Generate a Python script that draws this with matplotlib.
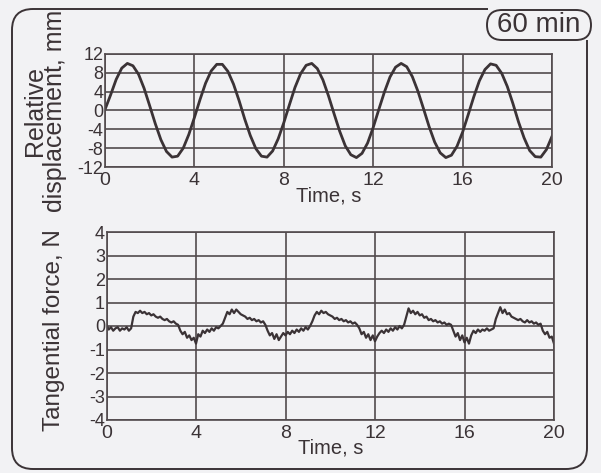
import numpy as np
import matplotlib.pyplot as plt
from matplotlib.path import Path
from matplotlib.patches import PathPatch, FancyBboxPatch

plt.rcParams['font.family'] = 'Liberation Sans'
plt.rcParams['axes.unicode_minus'] = False

# relative displacement (mm), one reading every 0.25 s from 0 to 20 s
disp_mm = [
    0.2, 3.3, 6.6, 9.0, 10.0, 9.5, 7.7, 4.7, 1.0, -2.8, -6.2, -8.7, -9.9, -9.7, -8.0, -5.1,
    -1.5, 2.3, 5.8, 8.4, 9.8, 9.8, 8.3, 5.6, 2.1, -1.8, -5.3, -8.1, -9.7, -9.9, -8.6, -6.0,
    -2.6, 1.2, 4.9, 7.8, 9.6, 10.0, 8.9, 6.5, 3.1, -0.7, -4.4, -7.5, -9.4, -10.0, -9.1, -6.9,
    -3.6, 0.2, 3.9, 7.1, 9.2, 10.0, 9.3, 7.2, 4.1, 0.4, -3.4, -6.7, -9.0, -10.0, -9.5, -7.6,
    -4.6, -0.9, 2.9, 6.3, 8.7, 9.9, 9.6, 7.9, 5.1, 1.5, -2.4, -5.8, -8.5, -9.8, -9.9, -8.3,
    -5.5,
]

# tangential force (N), one reading every 0.1 s from 0 to 20 s
force_N = [
    0.05, -0.15, -0.05, -0.2, -0.1, -0.05, -0.2, -0.1, -0.15, -0.05, -0.2, -0.1,
    0.4,
    0.6, 0.55, 0.65, 0.55, 0.6, 0.5, 0.55, 0.45,
    0.5, 0.4, 0.35, 0.4, 0.3, 0.25, 0.3, 0.2, 0.15, 0.2, 0.1,
    0.05, -0.2, -0.35, -0.25, -0.5, -0.4, -0.6, -0.5, -0.75,
    -0.35, -0.45, -0.2, -0.3, -0.15, -0.25, -0.1, -0.2, -0.05, -0.1, 0.0,
    0.1, 0.35,
    0.6, 0.5, 0.7, 0.55, 0.7, 0.6, 0.5, 0.45,
    0.4, 0.3, 0.35, 0.25, 0.3, 0.2, 0.25, 0.15, 0.2, 0.05,
    -0.2, -0.4, -0.3, -0.55, -0.35, -0.6, -0.45,
    -0.3, -0.4, -0.25, -0.35, -0.2, -0.3, -0.15, -0.25, -0.1, -0.2, -0.05, -0.15, 0.0,
    0.2, 0.45,
    0.6, 0.5, 0.65, 0.55, 0.6, 0.5, 0.45,
    0.4, 0.3, 0.35, 0.25, 0.3, 0.2, 0.25, 0.15, 0.2, 0.1, 0.15, 0.05,
    -0.1, -0.35, -0.25, -0.5, -0.35, -0.6, -0.4, -0.65, -0.45, -0.3,
    -0.2, -0.3, -0.15, -0.25, -0.1, -0.2, -0.05, -0.15, 0.0, -0.1, 0.05,
    0.4, 0.75,
    0.55, 0.65, 0.5, 0.6, 0.45, 0.5, 0.35, 0.4,
    0.25, 0.3, 0.2, 0.25, 0.15, 0.2, 0.1, 0.15, 0.05, 0.1, 0.05,
    -0.2, -0.45, -0.3, -0.6, -0.4, -0.7, -0.5, -0.75,
    -0.4, -0.2, -0.3, -0.15, -0.25, -0.15, -0.2, -0.1, -0.2, -0.15, -0.1,
    0.3, 0.55, 0.8,
    0.55, 0.7, 0.5, 0.55, 0.4,
    0.35, 0.3, 0.25, 0.3, 0.2, 0.15, 0.25, 0.15, 0.2, 0.1, 0.15, 0.05, 0.1,
    -0.2, -0.35, -0.25, -0.5, -0.45, -0.75,
]

time_ticks = [0, 4, 8, 12, 16, 20]
disp_ticks = [-12, -8, -4, 0, 4, 8, 12]
force_ticks = [-4, -3, -2, -1, 0, 1, 2, 3, 4]
duration_label = '60 min'

t_disp = np.linspace(0, 20, len(disp_mm))
t_force = np.linspace(0, 20, len(force_N))

BG = '#f2f2f4'
INK = '#3b3336'
GRID = '#524a4d'

W, H = 601, 473
fig = plt.figure(figsize=(W / 100, H / 100), dpi=100, facecolor=BG)


def px_box(left, top, right, bottom):
    return [left / W, 1 - bottom / H, (right - left) / W, (bottom - top) / H]


def style(ax, yticks, ylim):
    ax.set_facecolor(BG)
    ax.set_xlim(0, 20)
    ax.set_ylim(*ylim)
    ax.set_xticks(time_ticks)
    ax.set_yticks(yticks)
    ax.set_xticklabels([str(v) for v in time_ticks])
    ax.set_yticklabels([str(v) for v in yticks])
    ax.tick_params(axis='x', length=0, pad=3.5, labelsize=14, colors=INK)
    ax.tick_params(axis='y', length=0, pad=1, labelsize=13, colors=INK)
    ax.grid(True, color=GRID, lw=1.2)
    ax.set_axisbelow(True)
    for s in ax.spines.values():
        s.set_color(GRID)
        s.set_linewidth(1.2)


ax1 = fig.add_axes(px_box(105, 54, 552, 167))
style(ax1, disp_ticks, (-12, 12))
ax1.plot(t_disp, disp_mm, color=INK, lw=2.0)
ax1.set_xlabel('Time, s', fontsize=14.5, color=INK)
ax1.xaxis.set_label_coords(0.5, -0.175)
ax1.set_ylabel('Relative\ndisplacement, mm', fontsize=18, color=INK, linespacing=0.78)
ax1.yaxis.set_label_coords(-0.085, 0.5)

ax2 = fig.add_axes(px_box(106.5, 232, 554, 420))
style(ax2, force_ticks, (-4, 4))
ax2.plot(t_force, force_N, color=INK, lw=1.6)
ax2.set_xlabel('Time, s', fontsize=14.5, color=INK)
ax2.xaxis.set_label_coords(0.5, -0.1)
ax2.set_ylabel('Tangential force, N', fontsize=17.5, color=INK)
ax2.yaxis.set_label_coords(-0.092, 0.48)

# rounded outer frame and the duration tag, drawn in pixel units
deco = fig.add_axes([0, 0, 1, 1], zorder=5)
deco.set_xlim(0, W)
deco.set_ylim(H, 0)
deco.axis('off')
deco.patch.set_visible(False)

frame = Path(
    [(488, 9), (33, 9), (12, 9), (12, 30), (12, 448), (12, 469), (33, 469),
     (566, 469), (587, 469), (587, 448), (587, 40)],
    [Path.MOVETO, Path.LINETO, Path.CURVE3, Path.CURVE3, Path.LINETO, Path.CURVE3,
     Path.CURVE3, Path.LINETO, Path.CURVE3, Path.CURVE3, Path.LINETO],
)
deco.add_patch(PathPatch(frame, fill=False, edgecolor=INK, lw=1.4))
deco.add_patch(FancyBboxPatch((487, 10), 104, 30, boxstyle='round,pad=0,rounding_size=15',
                              facecolor=BG, edgecolor=INK, lw=1.4))
deco.text(539, 25, duration_label, ha='center', va='center', fontsize=20, color=INK)

fig.savefig('out.png', dpi=100, facecolor=BG)
